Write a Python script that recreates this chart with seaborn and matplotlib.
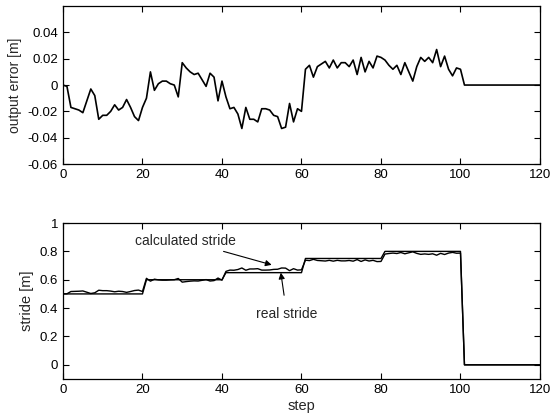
import numpy as np
import pandas as pd
import matplotlib
matplotlib.use('Agg')
import matplotlib.pyplot as plt
import seaborn as sns

# Dados
steps = list(range(0, 121))

output_error = [
    0.000, -0.001, -0.017, -0.018, -0.019, -0.021, -0.012, -0.003, -0.008, -0.026,
    -0.023, -0.023, -0.020, -0.015, -0.019, -0.017, -0.011, -0.017, -0.024, -0.027,
    -0.017, -0.010, 0.010, -0.004, 0.001, 0.003, 0.003, 0.001, 0.000, -0.009,
    0.017, 0.013, 0.010, 0.008, 0.009, 0.004, -0.001, 0.009, 0.006, -0.012,
    0.003, -0.009, -0.018, -0.017, -0.022, -0.033, -0.017, -0.026, -0.026, -0.028,
    -0.018, -0.018, -0.019, -0.023, -0.024, -0.033, -0.032, -0.014, -0.028, -0.018,
    -0.020, 0.012, 0.015, 0.006, 0.014, 0.016, 0.018, 0.013, 0.019, 0.013,
    0.017, 0.017, 0.014, 0.019, 0.008, 0.021, 0.010, 0.018, 0.013, 0.022,
    0.021, 0.019, 0.015, 0.012, 0.015, 0.008, 0.017, 0.010, 0.003, 0.014,
    0.021, 0.018, 0.021, 0.017, 0.027, 0.014, 0.022, 0.012, 0.007, 0.013,
    0.012,
] + [0.0] * 20

real_stride = [0.5] * 21 + [0.6] * 20 + [0.65] * 20 + [0.75] * 20 + [0.8] * 20 + [0.0] * 20

calculated_stride = [
    0.500, 0.501, 0.517, 0.518, 0.519, 0.521, 0.512, 0.503, 0.508, 0.526,
    0.523, 0.523, 0.520, 0.515, 0.519, 0.517, 0.511, 0.517, 0.524, 0.527,
    0.517, 0.610, 0.590, 0.604, 0.599, 0.597, 0.597, 0.599, 0.600, 0.609,
    0.583, 0.587, 0.590, 0.592, 0.591, 0.596, 0.601, 0.591, 0.594, 0.612,
    0.597, 0.659, 0.668, 0.667, 0.672, 0.683, 0.667, 0.676, 0.676, 0.678,
    0.668, 0.668, 0.669, 0.673, 0.674, 0.683, 0.682, 0.664, 0.678, 0.668,
    0.670, 0.738, 0.735, 0.744, 0.736, 0.734, 0.732, 0.737, 0.731, 0.737,
    0.733, 0.733, 0.736, 0.731, 0.742, 0.729, 0.740, 0.732, 0.737, 0.728,
    0.729, 0.781, 0.785, 0.788, 0.785, 0.792, 0.783, 0.790, 0.797, 0.786,
    0.779, 0.782, 0.779, 0.783, 0.773, 0.786, 0.778, 0.788, 0.793, 0.787,
    0.788,
] + [0.0] * 20

df = pd.DataFrame({'step': steps, 'error': output_error,
                   'real': real_stride, 'calc': calculated_stride})

sns.set_style('ticks')
plt.rcParams['font.family'] = ['Liberation Sans', 'DejaVu Sans']
plt.rcParams['xtick.direction'] = 'in'
plt.rcParams['ytick.direction'] = 'in'

fig = plt.figure(figsize=(5.5, 4.2), dpi=100)
ax1 = fig.add_axes([0.1145, 0.6095, 0.8673, 0.376])
ax2 = fig.add_axes([0.1145, 0.0976, 0.8673, 0.3714])

# 1. Erro de saída
sns.lineplot(data=df, x='step', y='error', ax=ax1, color='black', linewidth=1.2)
ax1.set_xlim(0, 120)
ax1.set_ylim(-0.06, 0.06)
ax1.set_yticks([-0.06, -0.04, -0.02, 0, 0.02, 0.04])
ax1.set_yticklabels(['-0.06', '-0.04', '-0.02', '0', '0.02', '0.04'])
ax1.set_ylabel('output error [m]', fontsize=10)
ax1.set_xlabel('')

# 2. Passada real x calculada
sns.lineplot(data=df, x='step', y='real', ax=ax2, color='black', linewidth=1.0)
sns.lineplot(data=df, x='step', y='calc', ax=ax2, color='black', linewidth=1.0)
ax2.set_xlim(0, 120)
ax2.set_ylim(-0.1, 1)
ax2.set_yticks([0, 0.2, 0.4, 0.6, 0.8, 1])
ax2.set_yticklabels(['0', '0.2', '0.4', '0.6', '0.8', '1'])
ax2.set_ylabel('stride [m]', fontsize=10.5)
ax2.set_xlabel('step', fontsize=10.5, labelpad=2)

ax2.annotate('calculated stride', xy=(52.5, 0.705), xytext=(43.5, 0.875),
             fontsize=10, ha='right', va='center',
             arrowprops=dict(arrowstyle='-|>', color='black', lw=0.8,
                             mutation_scale=9, shrinkA=1, shrinkB=0))
ax2.annotate('real stride', xy=(54.8, 0.65), xytext=(56.3, 0.36),
             fontsize=10, ha='center', va='center',
             arrowprops=dict(arrowstyle='-|>', color='black', lw=0.8,
                             mutation_scale=9, shrinkA=6, shrinkB=0))

for ax in (ax1, ax2):
    ax.set_xticks(range(0, 121, 20))
    ax.tick_params(axis='both', labelsize=9.5, length=4, width=0.8,
                   top=True, right=True, colors='black')
    for s in ax.spines.values():
        s.set_visible(True)
        s.set_linewidth(0.9)
        s.set_color('black')

plt.savefig('out.png', dpi=100)
